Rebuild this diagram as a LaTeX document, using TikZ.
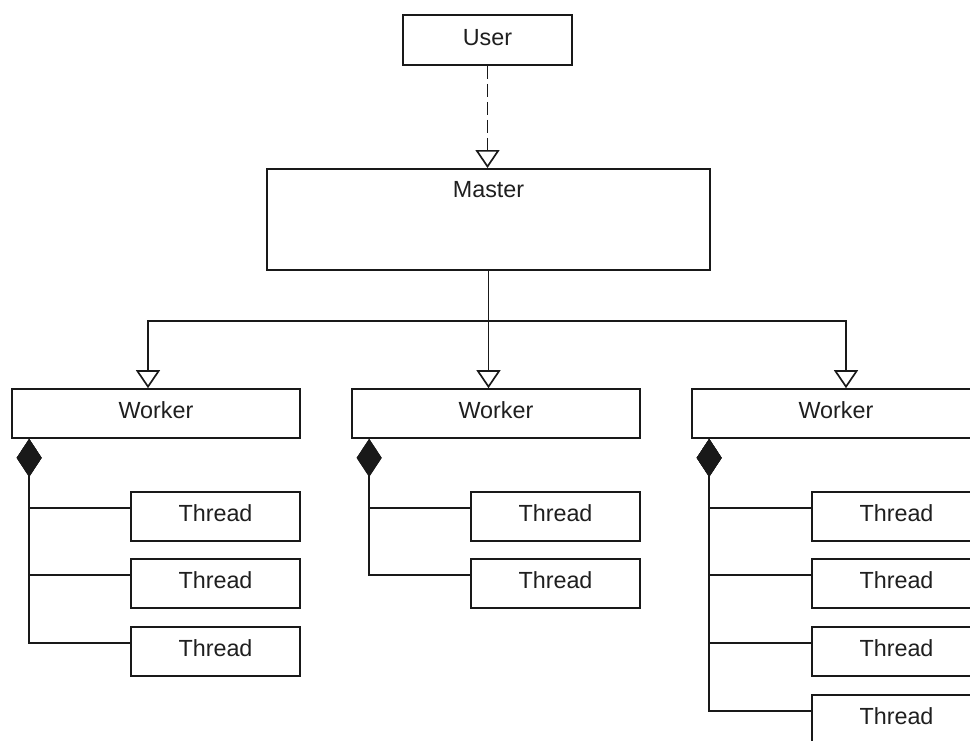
\documentclass[tikz,border=0pt]{standalone}
\usepackage{fontspec}
\setmainfont{Liberation Sans}
\usetikzlibrary{arrows.meta}
\begin{document}
\begin{tikzpicture}[x=0.75pt,y=-0.75pt,
  lbl/.style={font=\fontsize{17.5}{21}\selectfont, text=black!88},
  box/.style={draw=black!90, line width=1.25pt, fill=white, inner sep=0pt, text depth=4.5pt, lbl},
  worker/.style={box, minimum width=216pt, minimum height=36.75pt},
  thread/.style={box, minimum width=126.75pt, minimum height=36.75pt},
  link/.style={draw=black!90, line width=1.25pt},
  inherit/.style={link, -{Triangle[open, length=13.5pt, width=18pt]}},
  realize/.style={inherit, dash pattern=on 9.75pt off 3.75pt},
  compose/.style={link, -{Diamond[length=28.5pt, width=18.75pt]}},
]
\useasboundingbox (0,0) rectangle (970,740);

% top level
\node[box, minimum width=126.75pt, minimum height=37.5pt] (user) at (487.5,40) {User};
\node[box, minimum width=332.25pt, minimum height=75.75pt, anchor=north,
      label={[lbl, anchor=center, yshift=-16.5pt]north:Master}] (master) at (488.5,168) {};

% workers
\node[worker] (w1) at (156,413.5) {Worker};
\node[worker] (w2) at (496,413.5) {Worker};
\node[worker] (w3) at (836,413.5) {Worker};

% threads
\node[thread] (t11) at (215.5,516.5) {Thread};
\node[thread] (t12) at (215.5,583.5) {Thread};
\node[thread] (t13) at (215.5,651.5) {Thread};
\node[thread] (t21) at (555.5,516.5) {Thread};
\node[thread] (t22) at (555.5,583.5) {Thread};
\node[thread] (t31) at (896.5,516.5) {Thread};
\node[thread] (t32) at (896.5,583.5) {Thread};
\node[thread] (t33) at (896.5,651.5) {Thread};
\node[thread] (t34) at (896.5,719.5) {Thread};

% user -> master
\draw[realize] (user.south) -- (user.south |- master.north);

% master -> workers
\coordinate (bus) at (0,321);
\draw[inherit] (master.south) -- (master.south |- w2.north);
\draw[inherit] (master.south |- bus) -| ([xshift=-6pt]w1.north);
\draw[inherit] (master.south |- bus) -| ([xshift=7.5pt]w3.north);

% workers own threads
\foreach \w/\t in {w1/t11, w1/t12, w1/t13, w2/t21, w2/t22, w3/t31, w3/t32, w3/t33, w3/t34}
  \draw[compose] ([yshift=-12.75pt]\t.north west) -| ([xshift=13.5pt]\w.south west);
\end{tikzpicture}
\end{document}
